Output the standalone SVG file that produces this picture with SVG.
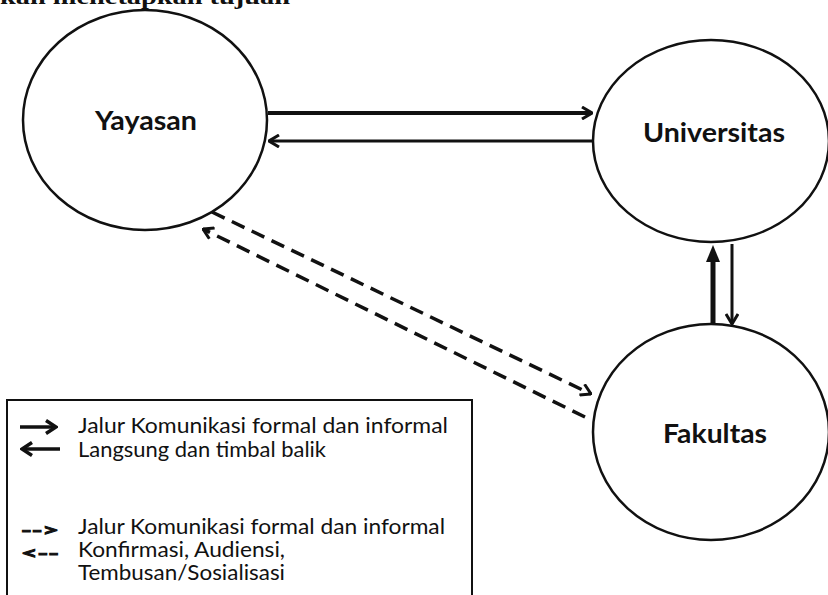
<svg xmlns="http://www.w3.org/2000/svg" width="828" height="595" viewBox="0 0 828 595">
<defs>
<style>
.node{fill:#fff;stroke:#111;stroke-width:2.5}
.lbl{font-family:Lato,"Open Sans","Liberation Sans",sans-serif;font-weight:bold;font-size:27px;fill:#111;text-anchor:middle}
.leg{font-family:Lato,"Open Sans","Liberation Sans",sans-serif;font-size:21px;fill:#111}
.sym{font-family:Lato,"Open Sans","Liberation Sans",sans-serif;font-size:17px;font-weight:bold;fill:#111;stroke:#111;stroke-width:0.9}
.con{fill:none;stroke:#111;stroke-linecap:butt}
.dash{stroke-dasharray:14 8;stroke-width:3.5}
</style>
<marker id="chev" viewBox="0 0 12 14" refX="11" refY="7" markerWidth="12" markerHeight="14" markerUnits="userSpaceOnUse" orient="auto">
<path d="M1,1 L11,7 L1,13" fill="none" stroke="#111" stroke-width="3" stroke-linejoin="miter"/>
</marker>
<marker id="chevS" viewBox="0 0 14 16" refX="12" refY="8" markerWidth="14" markerHeight="16" markerUnits="userSpaceOnUse" orient="auto">
<path d="M2,1.5 L12,8 L2,14.5" fill="none" stroke="#111" stroke-width="3.5"/>
</marker>
</defs>
<rect width="828" height="595" fill="#fff"/>
<text x="0" y="4" textLength="290" lengthAdjust="spacingAndGlyphs" style="font-family:'Liberation Serif',serif;font-weight:bold;font-size:22px;fill:#111">kan menetapkan tujuan</text>

<g id="connectors">
<line class="con" x1="268" y1="113" x2="592" y2="113" stroke-width="4" marker-end="url(#chev)"/>
<line class="con" x1="594" y1="141" x2="269" y2="141" stroke-width="3" marker-end="url(#chev)"/>
<line class="con" x1="713" y1="323" x2="713" y2="258" stroke-width="5"/>
<path d="M713,245 L720,262 L706,262 Z" fill="#111"/>
<line class="con" x1="732" y1="244" x2="732" y2="324" stroke-width="3" marker-end="url(#chev)"/>
<line class="con dash" x1="212" y1="212" x2="591" y2="394" marker-end="url(#chev)"/>
<line class="con dash" x1="585" y1="417" x2="203" y2="229" marker-end="url(#chev)"/>
</g>

<g id="yayasan">
<ellipse class="node" cx="145" cy="120" rx="122" ry="110"/>
<text class="lbl" x="146" y="130" textLength="102" lengthAdjust="spacingAndGlyphs">Yayasan</text>
</g>
<g id="universitas">
<ellipse class="node" cx="711" cy="141" rx="118" ry="101"/>
<text class="lbl" x="714" y="142" textLength="142" lengthAdjust="spacingAndGlyphs">Universitas</text>
</g>
<g id="fakultas">
<ellipse class="node" cx="711" cy="432" rx="118" ry="108"/>
<text class="lbl" x="715" y="443" textLength="104" lengthAdjust="spacingAndGlyphs">Fakultas</text>
</g>

<g id="legend">
<rect x="7" y="400" width="465" height="200" fill="#fff" stroke="#111" stroke-width="2"/>
<line class="con" x1="20" y1="427" x2="56" y2="427" stroke-width="3.5" marker-end="url(#chevS)"/>
<line class="con" x1="60" y1="449" x2="22" y2="449" stroke-width="3.5" marker-end="url(#chevS)"/>
<text class="leg" x="78" y="433" textLength="370" lengthAdjust="spacingAndGlyphs">Jalur Komunikasi formal dan informal</text>
<text class="leg" x="78" y="457" textLength="248" lengthAdjust="spacingAndGlyphs">Langsung dan timbal balik</text>
<text class="sym" x="21" y="536" textLength="38" lengthAdjust="spacingAndGlyphs">--&gt;</text>
<text class="leg" x="78" y="534" textLength="367" lengthAdjust="spacingAndGlyphs">Jalur Komunikasi formal dan informal</text>
<text class="sym" x="21" y="559" textLength="38" lengthAdjust="spacingAndGlyphs">&lt;--</text>
<text class="leg" x="78" y="557" textLength="207" lengthAdjust="spacingAndGlyphs">Konfirmasi, Audiensi,</text>
<text class="leg" x="78" y="580" textLength="207" lengthAdjust="spacingAndGlyphs">Tembusan/Sosialisasi</text>
</g>
</svg>
